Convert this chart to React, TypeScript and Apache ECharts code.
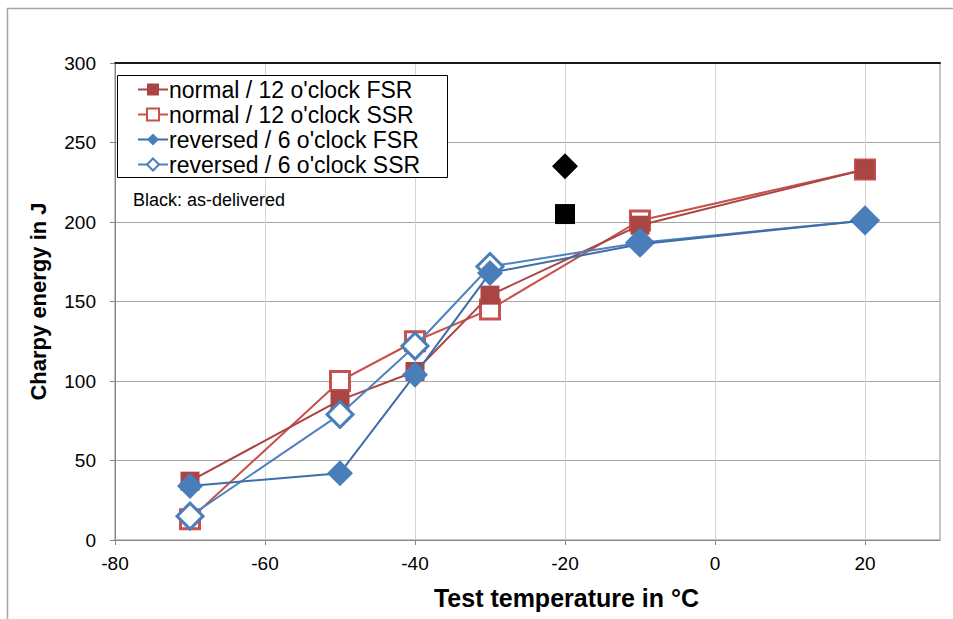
import React, { useEffect, useRef } from "react";
import * as echarts from "echarts";

const TEMPS = [-70, -50, -40, -30, -10, 20];
const NORMAL_FSR = [37, 88, 106, 154, 198, 233];
const NORMAL_SSR = [13, 100, 125, 145, 201, 233];
const REVERSED_FSR = [34, 42, 104, 168, 186, 201];
const REVERSED_SSR = [15, 79, 122, 172, 187, 201];
const DELIVERED_TEMP = -20;
const DELIVERED_DIAMOND = 235;
const DELIVERED_SQUARE = 205;
const X_TICKS = [-80, -60, -40, -20, 0, 20];

const FONT = "Liberation Sans, Arial, sans-serif";

function pairs(xs: number[], ys: number[]) {
  return xs.map((x, i) => [x, ys[i]]);
}

export default function App() {
  const ref = useRef<HTMLDivElement>(null);
  useEffect(() => {
    document.body.style.margin = "0";
    const chart = echarts.init(ref.current!, null, { renderer: "svg" });
    const gridCol = "#868686";
    chart.setOption({
      animation: false,
      backgroundColor: "#fff",
      grid: {
        left: 115,
        top: 63,
        right: 13,
        bottom: 79,
        show: true,
        borderColor: "#8c8c8c",
        borderWidth: 1,
      },
      legend: {
        left: 137,
        top: 77,
        orient: "vertical",
        itemWidth: 30,
        itemHeight: 15,
        itemGap: 0,
        selectedMode: false,
        padding: 0,
        textStyle: { fontFamily: FONT, fontSize: 23, color: "#000", lineHeight: 25, padding: [0, 0, 0, -4] },
        data: [
          "normal / 12 o'clock FSR",
          "normal / 12 o'clock SSR",
          "reversed / 6 o'clock FSR",
          "reversed / 6 o'clock SSR",
        ],
      },
      graphic: [
        {
          type: "rect",
          z: -10,
          silent: true,
          shape: { x: 7.5, y: 8.5, width: 2000, height: 2000 },
          style: { fill: "none", stroke: "#a6a6a6", lineWidth: 1.5 },
        },
        {
          type: "rect",
          z: 3,
          silent: true,
          shape: { x: 117.5, y: 75.5, width: 330, height: 102 },
          style: { fill: "#fff", stroke: "#000", lineWidth: 1 },
        },
        {
          type: "text",
          z: 3,
          left: 133,
          top: 191,
          style: { text: "Black: as-delivered", fontFamily: FONT, fontSize: 18, fill: "#000" },
        },
      ],
      xAxis: [
        {
          type: "value",
          min: -80,
          max: 30,
          interval: 20,
          position: "bottom",
          name: "Test temperature in °C",
          nameLocation: "middle",
          nameGap: 45,
          nameTextStyle: {
            fontFamily: FONT,
            fontSize: 25,
            fontWeight: "bold",
            color: "#000",
            padding: [0, 0, 0, 78],
          },
          axisLine: { show: true, onZero: false, lineStyle: { color: gridCol, width: 1 } },
          axisTick: { show: true, length: 5, lineStyle: { color: gridCol }, customValues: X_TICKS },
          axisLabel: { fontFamily: FONT, fontSize: 19, color: "#000", margin: 14, customValues: X_TICKS },
          splitLine: { show: true, lineStyle: { color: "#d4d4d4", width: 1 } },
        },
        {
          type: "value",
          min: -80,
          max: 30,
          position: "top",
          axisLine: { show: true, onZero: false, lineStyle: { color: "#1a1a1a", width: 2 } },
          axisTick: { show: false },
          axisLabel: { show: false },
          splitLine: { show: false },
        },
      ],
      yAxis: {
        type: "value",
        min: 0,
        max: 300,
        interval: 50,
        name: "Charpy energy in J",
        nameLocation: "middle",
        nameGap: 66,
        nameTextStyle: { fontFamily: FONT, fontSize: 22, fontWeight: "bold", color: "#000" },
        axisLine: { show: true, onZero: false, lineStyle: { color: gridCol, width: 1 } },
        axisTick: { show: true, length: 5, lineStyle: { color: gridCol } },
        axisLabel: { fontFamily: FONT, fontSize: 19, color: "#000", margin: 19 },
        splitLine: { show: true, lineStyle: { color: "#a6a6a6", width: 1 } },
      },
      series: [
        {
          name: "normal / 12 o'clock FSR",
          type: "line",
          z: 3,
          data: pairs(TEMPS, NORMAL_FSR),
          symbol: "rect",
          symbolSize: 19,
          color: "#A94542",
          itemStyle: { color: "#A94542" },
          lineStyle: { color: "#A94542", width: 2 },
        },
        {
          name: "normal / 12 o'clock SSR",
          type: "line",
          z: 2,
          data: pairs(TEMPS, NORMAL_SSR),
          symbol: "rect",
          symbolSize: 19,
          color: "#C8504D",
          itemStyle: { color: "#fff", borderColor: "#C8504D", borderWidth: 3 },
          lineStyle: { color: "#C8504D", width: 2 },
        },
        {
          name: "reversed / 6 o'clock FSR",
          type: "line",
          z: 5,
          data: pairs(TEMPS, REVERSED_FSR),
          symbol: "diamond",
          symbolSize: 26,
          color: "#4A7EBB",
          itemStyle: { color: "#4A7EBB" },
          lineStyle: { color: "#3F6DA8", width: 2 },
        },
        {
          name: "reversed / 6 o'clock SSR",
          type: "line",
          z: 4,
          data: pairs(TEMPS, REVERSED_SSR),
          symbol: "diamond",
          symbolSize: 26,
          color: "#4A7EBB",
          itemStyle: { color: "#fff", borderColor: "#4A7EBB", borderWidth: 3 },
          lineStyle: { color: "#4F81BD", width: 2 },
        },
        {
          name: "as-delivered diamond",
          type: "scatter",
          z: 6,
          data: [[DELIVERED_TEMP, DELIVERED_DIAMOND]],
          symbol: "diamond",
          symbolSize: 26,
          itemStyle: { color: "#000", opacity: 1 },
        },
        {
          name: "as-delivered square",
          type: "scatter",
          z: 6,
          data: [[DELIVERED_TEMP, DELIVERED_SQUARE]],
          symbol: "rect",
          symbolSize: 20,
          itemStyle: { color: "#000", opacity: 1 },
        },
      ],
    });
    return () => chart.dispose();
  }, []);
  return <div ref={ref} style={{ width: 953, height: 619 }} />;
}
